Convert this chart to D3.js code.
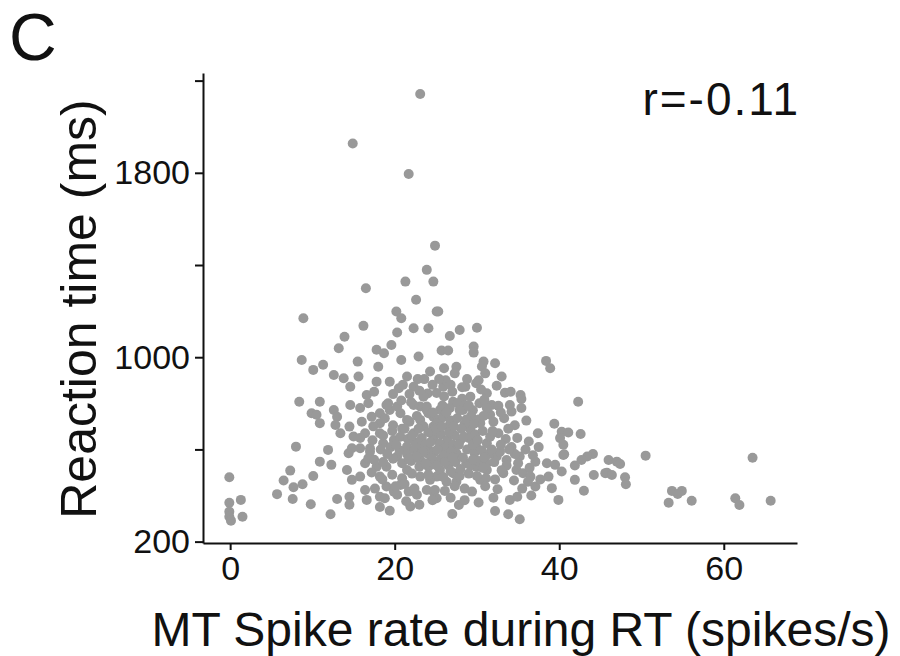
<!DOCTYPE html>
<html>
<head>
<meta charset="utf-8">
<script src="https://cdn.jsdelivr.net/npm/d3@7"></script>
<style>
  body { margin: 0; background: #fff; }
  text { font-family: "Liberation Sans", Arial, sans-serif; fill: #111; }
  .axis path, .axis line { stroke: #111; stroke-width: 2; }
  .dot { fill: #999999; }
</style>
</head>
<body>
<script>
// spike rate (spikes/s), reaction time (ms)
const trials = [
  [23.1,2142],[14.9,1927],[21.7,1795],[24.9,1484],[23.9,1379],[24.7,1328],[21.3,1328],[16.5,1299],
  [22.6,1249],[25.1,1198],[20.2,1198],[20.8,1169],[22.3,1126],[24.1,1126],[8.9,1169],[16.2,1136],
  [13.9,1089],[20.3,1107],[13.2,1039],[17.8,1032],[19.6,1053],[18.7,1017],[8.7,988],[11.3,967],
  [10.1,945],[15.5,981],[20.8,988],[22.9,1003],[18.0,959],[12.6,923],[13.8,909],[15.6,916],
  [17.8,894],[19.4,894],[21.5,916],[24.3,938],[14.6,872],[16.6,836],[17.5,850],[20.5,865],
  [22.3,872],[24.0,843],[8.4,807],[10.9,807],[12.6,771],[9.9,757],[10.9,714],[14.5,699],
  [14.6,793],[15.8,780],[17.2,742],[18.2,714],[19.4,771],[19.2,800],[20.7,757],[21.5,728],
  [23.1,786],[24.1,757],[10.5,750],[13.0,742],[12.8,706],[13.4,670],[15.0,656],[16.4,670],
  [18.2,757],[19.0,793],[20.3,786],[22.3,793],[23.9,771],[24.7,742],
  [-0.1,479],[-0.1,369],[1.3,381],[-0.1,330],[-0.1,308],[0.1,291],[1.5,308],[5.7,406],
  [6.5,465],[7.3,508],[7.7,436],[8.8,449],[7.6,385],[8.0,612],[9.8,362],[10.1,485],
  [10.9,547],[11.9,598],[12.3,533],[12.2,319],[13.0,385],[14.2,511],[14.8,468],[14.5,395],
  [14.4,583],[16.4,424],[16.6,381],[15.8,482],[16.4,540],[14.8,605],[15.8,605],[17.0,605],
  [16.8,562],[17.8,525],[18.2,482],[19.0,439],[19.9,417],[20.7,446],[18.2,395],[18.8,388],
  [20.3,403],[21.7,417],[22.7,403],[23.9,424],[24.7,417],[18.2,670],[19.9,641],[21.5,612],
  [22.3,670],[23.1,728],[23.9,583],[24.7,656],[20.3,569],[19.0,525],[21.5,511],[23.1,482],
  [24.1,525],[25.1,482],[23.1,554],[18.6,627],[19.4,334],[21.9,352],
  [25.3,1198],[27.9,1118],[30.0,1128],[26.7,1092],[29.6,1046],[29.6,1020],[25.7,1029],[26.5,1029],
  [30.8,981],[32.2,974],[30.6,960],[38.4,984],[38.9,952],[42.3,807],[33.0,916],[32.4,876],
  [33.4,846],[35.3,836],[35.4,819],[31.8,793],[32.6,789],[34.0,793],[34.2,764],
  [39.4,711],[37.4,670],[36.3,634],[37.5,610],[44.1,580],[43.4,569],[42.7,554],[41.9,530],
  [44.2,489],[45.8,499],[40.5,576],[37.1,547],[38.5,540],[39.5,533],[40.3,504],[38.7,482],
  [39.1,432],[39.9,381],[43.0,421],[41.9,468],[29.4,417],[27.8,359],[32.2,333],[33.8,319],
  [35.2,297],[34.0,381],[34.9,395],[37.1,439],[32.5,427],[24.9,424],[25.1,388],
  [40.3,677],[41.1,673],[42.6,667],[40.1,649],[40.5,620],[40.6,579],
  [23.5,829],[25.9,872],[27.1,807],[28.3,771],[29.2,829],[27.5,959],[28.6,872],[29.9,887],
  [31.2,844],[31.6,750],[30.4,714],[29.2,685],[28.0,641],[26.5,699],[25.3,728],[24.7,641],
  [25.9,598],[27.5,583],[29.9,612],[31.2,627],[32.4,569],[33.6,554],[34.8,511],[35.6,497],
  [33.2,497],[31.2,511],[29.9,525],[28.7,540],[27.1,497],[25.5,511],[24.3,468],[26.3,460],
  [27.5,460],[30.4,468],[36.5,482],[32.8,590],[35.2,569],[23.9,786],[25.5,771],[24.7,699],
  [46.0,554],[47.0,547],[47.4,537],[45.6,497],[46.4,489],[48.0,479],[48.1,449],[50.5,573],
  [53.7,420],[54.9,420],[54.4,407],[53.3,369],[56.1,377],[61.4,388],[61.9,359],[63.5,564],
  [65.7,377],
  [26.0,952],[27.3,930],[28.8,905],[30.2,900],[31.0,930],[26.2,900],[25.4,905],[22.8,905],
  [21.8,840],[23.0,855],[25.1,845],[26.0,830],[27.0,850],[28.2,820],[30.5,860],[34.1,850],
  [16.8,800],[20.8,812],[22.0,805],[25.8,790],[26.7,780],[27.6,800],[28.5,790],[29.5,770],
  [30.3,800],[31.2,780],[35.4,780],[16.0,720],[17.4,700],[18.8,735],[19.8,705],[20.9,690],
  [21.8,720],[22.7,745],[23.5,700],[25.1,715],[25.9,740],[26.8,725],[27.6,735],[28.5,710],
  [29.3,745],[30.2,730],[32.0,720],[33.3,735],[34.6,705],[36.0,725],[15.8,650],[17.3,640],
  [18.6,660],[19.7,680],[20.7,655],[21.6,645],[22.5,630],[23.3,650],[24.1,675],[25.6,665],
  [26.4,640],[27.3,660],[28.1,690],[29.0,650],[29.8,665],[30.7,680],[31.6,655],[32.6,670],
  [33.5,645],[17.0,590],[18.3,600],[19.5,610],[20.6,595],[21.5,580],[22.4,600],[23.2,615],
  [24.0,600],[24.8,590],[25.5,625],[26.3,610],[27.1,620],[28.8,600],[29.7,585],[30.6,595],
  [31.5,580],[34.2,610],[17.5,555],[18.6,545],[19.8,560],[20.9,540],[22.0,550],[23.0,525],
  [24.7,545],[25.6,560],[26.5,530],[27.4,545],[28.3,565],[29.2,530],[30.2,550],[31.2,540],
  [33.6,530],[35.0,540],[36.4,520],[17.2,500],[18.5,470],[19.7,490],[20.9,475],[22.1,495],
  [24.1,490],[25.9,480],[26.8,505],[27.9,485],[29.0,495],[30.0,485],[31.1,475],[32.2,470],
  [34.5,465],[36.2,460],[37.7,470],[17.6,430],[20.1,440],[21.2,450],[22.4,430],[26.1,420],
  [27.3,440],[28.5,430],[31.0,440],[35.5,430],[14.5,360],[18.2,350],[21.4,375],[23.0,360],
  [24.6,380],[26.8,390],[28.5,380],[30.2,370],[32.0,390],[36.6,400],[27.0,320],
  [21.2,690],[22.1,660],[23.7,620],[24.5,560],[25.2,600],[26.0,575],[26.9,590],[27.8,620],
  [28.4,655],[29.5,620],[30.1,640],[30.9,565],[31.8,600],[32.9,620],[23.4,590],[24.3,630],
  [25.0,690],[25.7,700],[26.6,675],[27.2,700],[28.7,730],[29.6,710],[30.8,745],[31.9,680],
  [22.6,570],[23.8,540],[25.1,530],[26.1,545],[27.0,565],[28.0,515],[29.5,555],[30.7,520],
  [32.1,545],[33.0,510],[21.7,560],[20.2,620],[19.1,580],[22.9,690],[24.6,760],[26.3,760],
  [27.9,770],[29.0,790],[30.9,815],[32.9,760],[28.2,870],[26.8,880],[24.6,880],[23.6,905],
  [21.0,880],[19.8,840],[33.8,690],[34.9,650],[35.9,600],[36.8,575],[34.6,580],[33.9,600]
];

const xTicks = [0, 20, 40, 60];
const yTicks = [200, 600, 1000, 1400, 1800, 2200];
const yLabels = [200, 1000, 1800];
const xTitle = "MT Spike rate during RT (spikes/s)";
const yTitle = "Reaction time (ms)";
const panel = "C";
const rText = "r=-0.11";

const width = 900, height = 656;

const svg = d3.select("body").append("svg")
  .attr("width", width)
  .attr("height", height);

const x = d3.scaleLinear().domain([-3.3, 68.9]).range([203, 797]);
const y = d3.scaleLinear().domain([194, 2233]).range([543, 73]);

// axes
svg.append("g")
  .attr("class", "axis")
  .attr("transform", `translate(0,${y.range()[0]})`)
  .call(d3.axisBottom(x).tickValues(xTicks).tickSize(7).tickSizeOuter(0).tickPadding(6))
  .call(g => g.selectAll("text").attr("font-size", 34).attr("dy", "0.71em"));

svg.append("g")
  .attr("class", "axis")
  .attr("transform", `translate(${x.range()[0]},0)`)
  .call(d3.axisLeft(y).tickValues(yTicks).tickSize(8).tickSizeOuter(0).tickPadding(5)
    .tickFormat(d => yLabels.includes(d) ? d : ""))
  .call(g => g.selectAll("text").attr("font-size", 34));

// dots
svg.append("g")
  .selectAll("circle")
  .data(trials)
  .join("circle")
  .attr("class", "dot")
  .attr("cx", d => x(d[0]))
  .attr("cy", d => y(d[1]))
  .attr("r", 5);

// labels
svg.append("text")
  .attr("x", 521).attr("y", 646)
  .attr("text-anchor", "middle")
  .attr("font-size", 48)
  .text(xTitle);

svg.append("text")
  .attr("transform", "translate(96,309) rotate(-90)")
  .attr("text-anchor", "middle")
  .attr("font-size", 50)
  .text(yTitle);

svg.append("text")
  .attr("x", 800).attr("y", 115)
  .attr("text-anchor", "end")
  .attr("font-size", 46)
  .attr("letter-spacing", 2)
  .text(rText);

svg.append("text")
  .attr("x", 9).attr("y", 60)
  .attr("font-size", 66)
  .text(panel);
</script>
</body>
</html>
